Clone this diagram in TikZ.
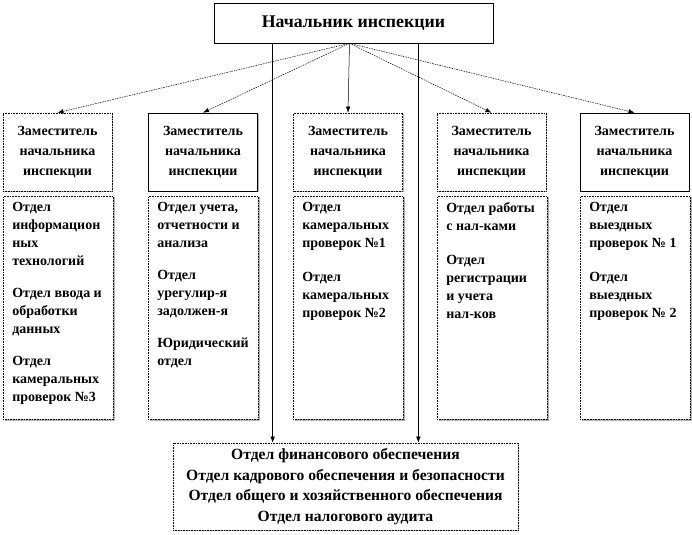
\documentclass[tikz,border=0pt]{standalone}
\usepackage{fontspec}
\setmainfont{Liberation Serif}
\usetikzlibrary{arrows.meta,shadows}

% text of a department column, set at the top of a tall box
\newcommand{\deptbody}[1]{\parbox[t][223bp][t]{92bp}{\raggedright\vspace*{6bp}#1}}

\tikzset{
  shade box/.style={fill=white, drop shadow={shadow xshift=1.2bp, shadow yshift=-1.2bp, fill=gray!60, opacity=1}},
  chief/.style={draw, line width=0.7bp, shade box, minimum width=279bp, minimum height=40bp,
    inner sep=0pt, font=\fontsize{17.8bp}{20bp}\selectfont\bfseries},
  deputy/.style={draw, line width=0.6bp, shade box, minimum width=109bp, minimum height=78bp,
    text width=105bp, align=center, inner sep=0pt, font=\fontsize{14bp}{20bp}\selectfont\bfseries},
  dotbox/.style={densely dotted},
  solidbox/.style={solid},
  dept/.style={draw, densely dotted, line width=0.6bp, shade box, anchor=north west,
    inner xsep=9bp, inner ysep=0pt, font=\fontsize{14bp}{18bp}\selectfont\bfseries},
  common/.style={draw, densely dotted, line width=0.6bp, shade box, minimum width=345bp,
    minimum height=87bp, align=center, inner sep=0pt, font=\fontsize{15.6bp}{20.5bp}\selectfont\bfseries},
  link/.style={-{Latex[length=6bp,width=4.5bp]}, line width=0.5bp},
  dotlink/.style={link, dash pattern=on 1.5bp off 1bp},
}

\begin{document}
\begin{tikzpicture}[x=1bp, y=-1bp]

\useasboundingbox (0,0) rectangle (692,535);

% Head of the inspection
\node[chief] (boss) at (353.5,23) {Начальник инспекции};

% Deputies
\foreach \x/\kind [count=\i] in {57.5/dotbox, 203/solidbox, 348/dotbox, 491.5/dotbox, 634.5/solidbox} {
    \node[deputy, \kind] (dep\i) at (\x,152) {Заместитель\\начальника\\инспекции};
}

% Departments under each deputy
\node[dept] (dept1) at (3,196) {\deptbody{Отдел\\информацион\\ных\\технологий\\[14bp]
    Отдел ввода и\\обработки\\данных\\[14bp]Отдел\\камеральных\\проверок №3}};
\node[dept] (dept2) at (148,196) {\deptbody{Отдел учета,\\отчетности и\\анализа\\[14bp]
    Отдел\\урегулир-я\\задолжен-я\\[14bp]Юридический\\отдел}};
\node[dept] (dept3) at (293,196) {\deptbody{Отдел\\камеральных\\проверок №1\\[16bp]
    Отдел\\камеральных\\проверок №2}};
\node[dept] (dept4) at (437,196) {\deptbody{Отдел работы\\с нал-ками\\[16bp]
    Отдел\\регистрации\\и учета\\нал-ков}};
\node[dept] (dept5) at (580,196) {\deptbody{Отдел\\выездных\\проверок № 1\\[16bp]
    Отдел\\выездных\\проверок № 2}};

% Departments directly under the head
\node[common] (common) at (345.5,486.5) {Отдел финансового обеспечения\\
    Отдел кадрового обеспечения и безопасности\\
    Отдел общего и хозяйственного обеспечения\\
    Отдел налогового аудита};

% Connectors
\foreach \i in {1,2,4,5} {
    \draw[dotlink] ([xshift=-4bp]boss.south) -- (dep\i.north);
}
\draw[link] ([xshift=-4bp]boss.south) -- (dep3.north);
\draw[link] ([xshift=59bp]boss.south west) -- ([xshift=59bp]boss.south west |- common.north);
\draw[link] ([xshift=-75bp]boss.south east) -- ([xshift=-75bp]boss.south east |- common.north);

\end{tikzpicture}
\end{document}
